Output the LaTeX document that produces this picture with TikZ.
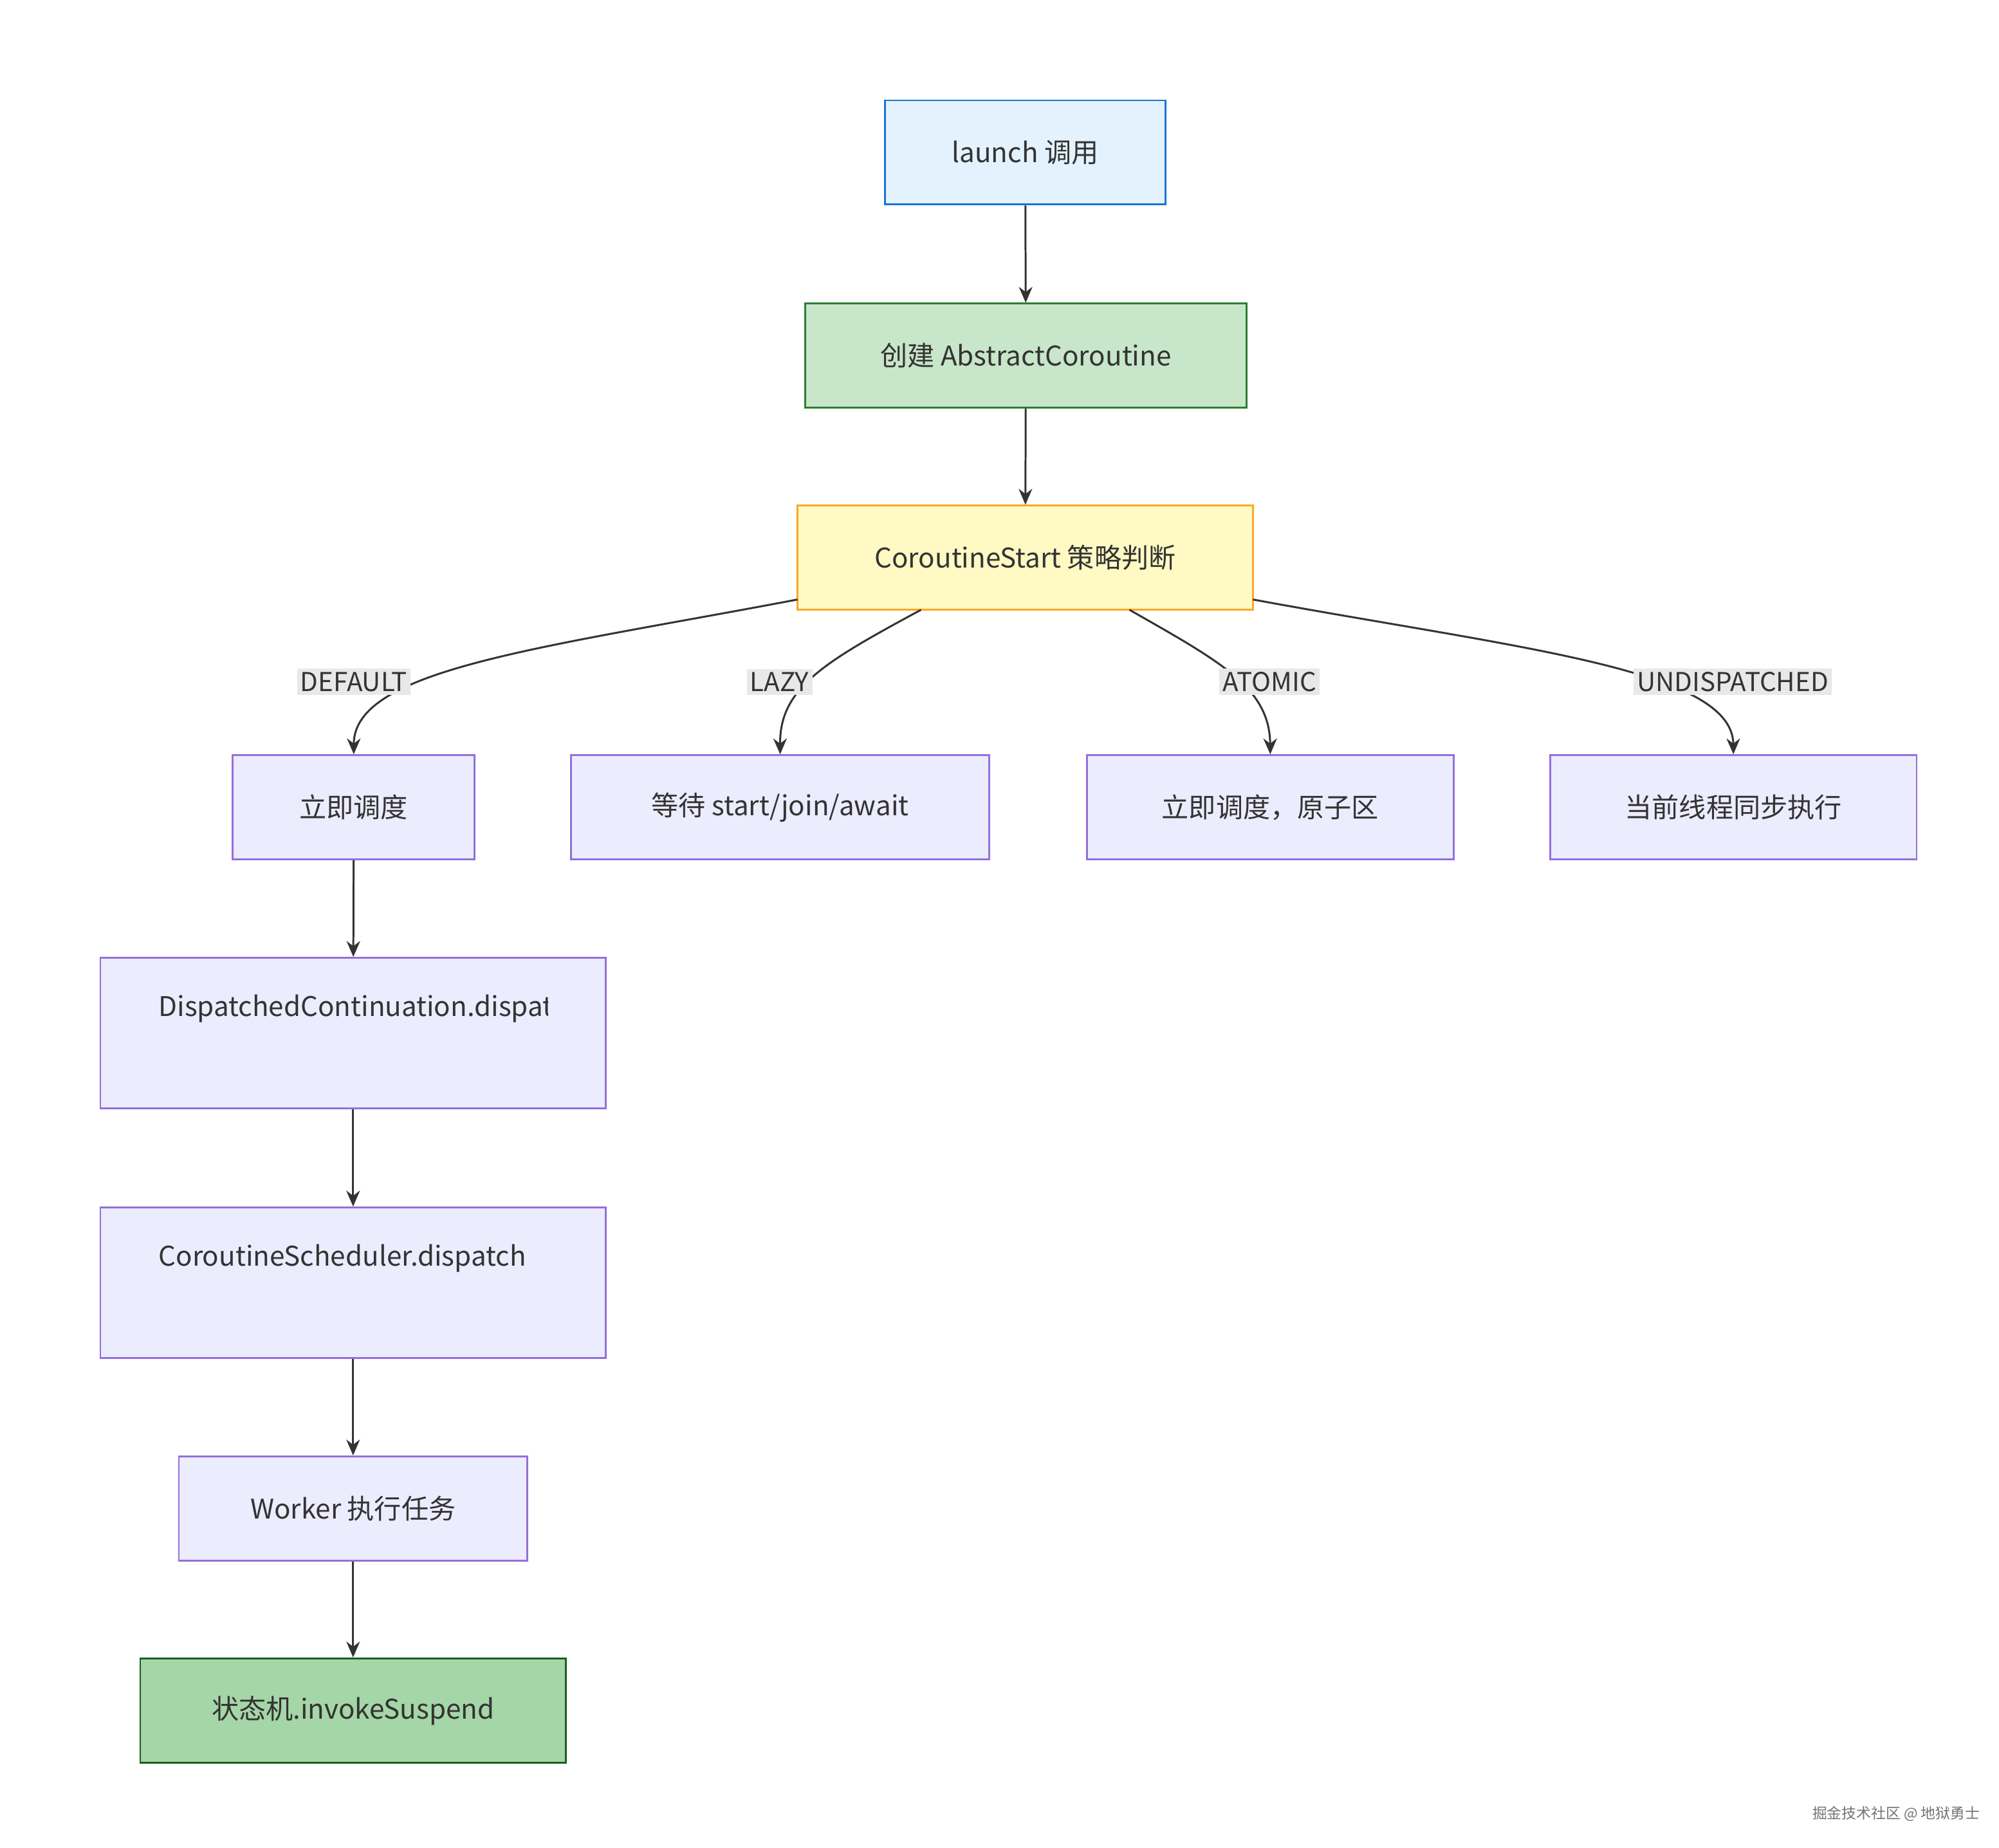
\documentclass[tikz,border=0pt]{standalone}
\usepackage{fontspec}
\setmainfont{Noto Sans CJK SC}
\usetikzlibrary{arrows.meta}
\definecolor{pfill}{HTML}{ECECFF}\definecolor{pdraw}{HTML}{9370DB}
\definecolor{bfill}{HTML}{E3F2FD}\definecolor{bdraw}{HTML}{1976D2}
\definecolor{gfill}{HTML}{C8E6C9}\definecolor{gdraw}{HTML}{2E7D32}
\definecolor{yfill}{HTML}{FFF9C4}\definecolor{ydraw}{HTML}{F9A825}
\definecolor{dfill}{HTML}{A5D6A7}\definecolor{ddraw}{HTML}{1B5E20}
\definecolor{ink}{HTML}{333333}
\begin{document}
\begin{tikzpicture}[x=0.02cm,y=-0.02cm,
  box/.style={draw,line width=0.8pt,inner sep=0pt,text=ink,font=\fontsize{12}{14}\selectfont},
  pbox/.style={box,fill=pfill,draw=pdraw},
  lab/.style={fill=black!9,inner sep=1.5pt,text=ink,font=\fontsize{11.5}{13}\selectfont},
  edge/.style={draw=ink,line width=0.85pt,-{Stealth[length=7pt,width=6pt]}}]
\useasboundingbox (0,0) rectangle (1554,1436);
\node[box,fill=bfill,draw=bdraw,minimum width=218*0.02cm,minimum height=81*0.02cm] (launch) at (797,118.5) {launch 调用};
\node[box,fill=gfill,draw=gdraw,minimum width=343*0.02cm,minimum height=81*0.02cm] (create) at (797.5,276.5) {创建 AbstractCoroutine};
\node[box,fill=yfill,draw=ydraw,minimum width=354*0.02cm,minimum height=81*0.02cm] (start) at (797,433.5) {CoroutineStart 策略判断};
\node[pbox,minimum width=188*0.02cm,minimum height=81*0.02cm] (imm) at (275,627.5) {立即调度};
\node[pbox,minimum width=325*0.02cm,minimum height=81*0.02cm] (wait) at (606.5,627.5) {等待 start/join/await};
\node[pbox,minimum width=285*0.02cm,minimum height=81*0.02cm] (atom) at (987.5,627.5) {立即调度，原子区};
\node[pbox,minimum width=285*0.02cm,minimum height=81*0.02cm] (cur) at (1347.5,627.5) {当前线程同步执行};
\node[pbox,minimum width=393*0.02cm,minimum height=117*0.02cm] (dc) at (274.5,803) {};
\node[pbox,minimum width=393*0.02cm,minimum height=117*0.02cm] (cs) at (274.5,997) {};
\begin{scope}
\clip (100,760) rectangle (426,1010);
\node[anchor=west,text=ink,font=\fontsize{12}{14}\selectfont,inner sep=0pt] (dct) at (123,784) {DispatchedContinuation.dispatch};
\node[anchor=west,text=ink,font=\fontsize{12}{14}\selectfont,inner sep=0pt] (cst) at (123,978) {CoroutineScheduler.dispatch};
\end{scope}
\node[pbox,minimum width=271*0.02cm,minimum height=81*0.02cm] (worker) at (274.5,1172.5) {Worker 执行任务};
\node[box,fill=dfill,draw=ddraw,minimum width=331*0.02cm,minimum height=81*0.02cm] (sm) at (274.5,1329.5) {状态机.invokeSuspend};
\draw[edge] (launch) -- (create);
\draw[edge] (create) -- (start);
\draw[edge] (imm) -- (dc);
\draw[edge] (dc) -- (cs);
\draw[edge] (cs) -- (worker);
\draw[edge] (worker) -- (sm);
\coordinate (s1) at (620,466); \coordinate (s2) at (716,474);
\coordinate (s3) at (878,474); \coordinate (s4) at (974,466);
\draw[edge] (s1) .. controls (420,504) and (275,520) .. (imm.north);
\draw[edge] (s2) .. controls (640,515) and (606,535) .. (wait.north);
\draw[edge] (s3) .. controls (950,515) and (987,535) .. (atom.north);
\draw[edge] (s4) .. controls (1180,504) and (1347,520) .. (cur.north);
\node[lab] (l1) at (275,530) {DEFAULT};
\node[lab] (l2) at (606,530) {LAZY};
\node[lab] (l3) at (987,530) {ATOMIC};
\node[lab] (l4) at (1347,530) {UNDISPATCHED};
\node[text=black!55,font=\fontsize{6.5}{8}\selectfont] (wm) at (1474,1410) {掘金技术社区 @ 地狱勇士};
\end{tikzpicture}
\end{document}
